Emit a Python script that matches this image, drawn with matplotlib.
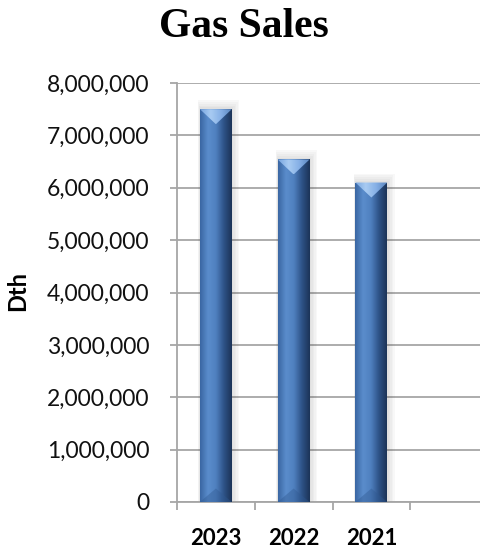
import numpy as np
import matplotlib.pyplot as plt
from matplotlib.patches import Polygon, Rectangle
from matplotlib.colors import LinearSegmentedColormap
from matplotlib.ticker import FuncFormatter, FixedLocator

# data
years = ['2023', '2022', '2021']
sales = [7500000, 6540000, 6100000]
n_slots = 4  # the chart leaves an empty fourth category slot

plt.rcParams['font.family'] = ['Lato', 'DejaVu Sans']

fig = plt.figure(figsize=(4.81, 5.5), dpi=100)
ax = fig.add_axes([177 / 481, 48 / 550, 311 / 481, 419 / 550])

x = np.arange(len(years))
width = 0.41
ax.set_xlim(-0.5, n_slots - 0.5)
ax.set_ylim(0, 8000000)

# gridlines and axes styling
ax.yaxis.grid(True, color='#a6a6a6', linewidth=1.3, zorder=0)
ax.set_axisbelow(True)
for s in ['top', 'right']:
    ax.spines[s].set_visible(False)
for s in ['left', 'bottom']:
    ax.spines[s].set_color('#a6a6a6')
    ax.spines[s].set_linewidth(1.3)

ax.yaxis.set_major_locator(FixedLocator(np.arange(0, 8000001, 1000000)))
ax.yaxis.set_major_formatter(FuncFormatter(lambda v, p: f'{int(v):,}'))
ax.tick_params(axis='y', length=5, width=1.3, color='#a6a6a6', pad=15,
               labelsize=16.5, labelcolor='#111111')
ax.set_xticks(np.arange(-0.5, n_slots - 0.5, 1.0))
ax.set_xticklabels([])
ax.tick_params(axis='x', length=6, width=1.3, color='#a6a6a6')
for xi, lab in zip(x, years):
    ax.annotate(lab, xy=(xi, 0), xycoords=('data', 'axes fraction'),
                xytext=(0, -19), textcoords='offset points',
                ha='center', va='top', fontsize=16, fontweight='bold')

# bars with a bevelled look
bars = ax.bar(x, sales, width=width, color='#4f81bd', zorder=3)
fig.canvas.draw()
px_per_y = (ax.transData.transform((0, 1e6))[1] - ax.transData.transform((0, 0))[1]) / 1e6
bevel = 15 / px_per_y

body = LinearSegmentedColormap.from_list('body', ['#3a67a3', '#5b8dcc', '#4f80bf', '#2e5388', '#1c3458'])
top_cm = LinearSegmentedColormap.from_list('top', ['#79a6e0', '#a8cbf2', '#86b0e6', '#5a85bf'])
grad = np.linspace(0, 1, 64).reshape(1, -1)

for b in bars:
    x0, w, h = b.get_x(), b.get_width(), b.get_height()
    # soft shadow, mostly to the right
    for k in range(5):
        dx = w * 0.06 * (k + 1)
        dy = bevel * 0.12 * (k + 1)
        sh = Rectangle((x0 - dx * 0.2, 0), w + dx, h + dy, facecolor='#505050',
                       alpha=0.035, edgecolor='none', zorder=2)
        ax.add_patch(sh)
    b.set_alpha(0)
    im = ax.imshow(grad, cmap=body, extent=(x0, x0 + w, 0, h), aspect='auto',
                   zorder=4, interpolation='bicubic')
    im.set_clip_path(Rectangle((x0, 0), w, h, transform=ax.transData))
    tri = Polygon([(x0, h), (x0 + w, h), (x0 + w / 2, h - bevel)], closed=True,
                  transform=ax.transData)
    im2 = ax.imshow(grad, cmap=top_cm, extent=(x0, x0 + w, h - bevel, h), aspect='auto',
                    zorder=5, interpolation='bicubic')
    im2.set_clip_path(tri)
    bot = Polygon([(x0, 0), (x0 + w, 0), (x0 + w / 2, bevel * 0.9)], closed=True,
                  facecolor='#2f5890', alpha=0.4, edgecolor='none', zorder=5)
    ax.add_patch(bot)

ax.set_xlim(-0.5, n_slots - 0.5)
ax.set_ylim(0, 8000000)

fig.text(244 / 481, 1 - 27 / 550, 'Gas Sales', ha='center', va='center',
         fontsize=30, fontweight='bold', family='Liberation Serif')
fig.text(18 / 481, 1 - 291 / 550, 'Dth', ha='center', va='center', rotation=90,
         fontsize=17, fontweight='bold')

fig.savefig('out.png', dpi=100)
